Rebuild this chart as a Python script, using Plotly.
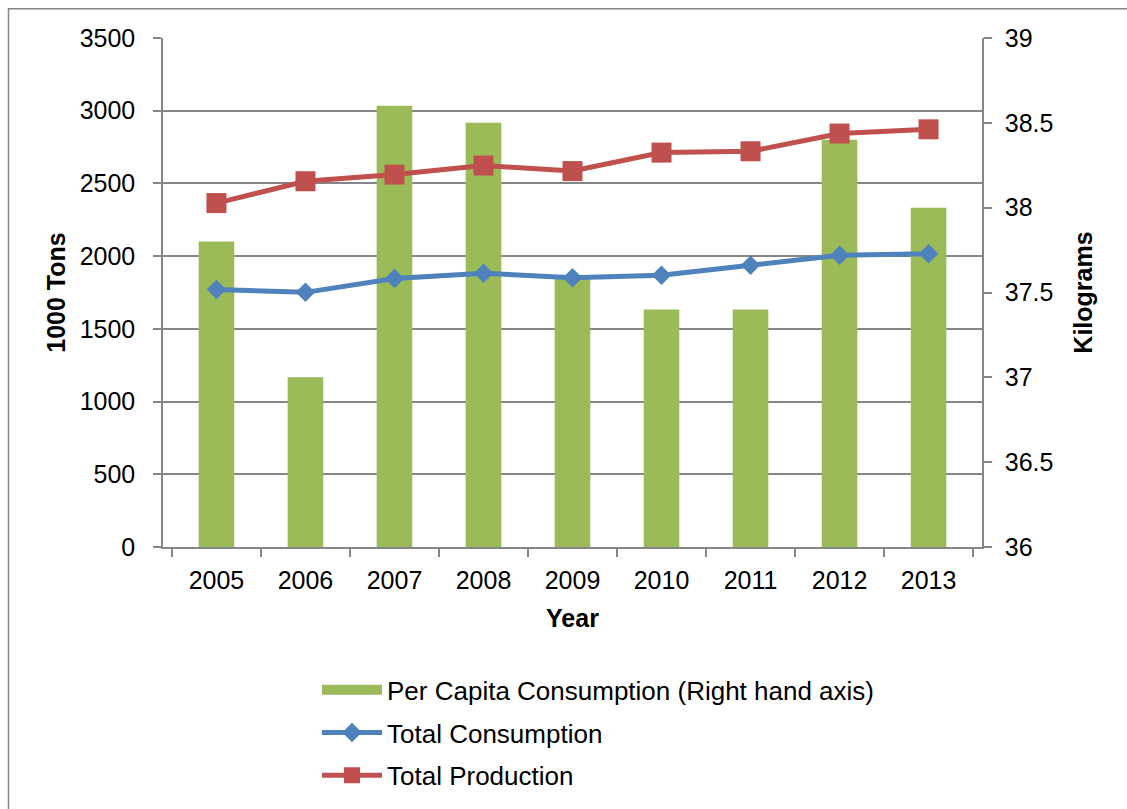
import plotly.graph_objects as go

years = ["2005", "2006", "2007", "2008", "2009", "2010", "2011", "2012", "2013"]
per_capita_kg = [37.8, 37.0, 38.6, 38.5, 37.6, 37.4, 37.4, 38.4, 38.0]
total_consumption = [1770, 1751, 1846, 1882, 1852, 1868, 1937, 2006, 2017]
total_production = [2365, 2515, 2561, 2623, 2585, 2712, 2721, 2843, 2872]

FONT = "Liberation Sans, Arial, sans-serif"
GRAY = "#868686"
GREEN, BLUE, RED = "#9BBB59", "#4F81BD", "#C0504D"

W, H = 1127, 809
L, R, T, B = 163, 982, 37.7, 546.7
pw, ph = R - L, B - T

fig = go.Figure()

# bars on the right-hand (kilogram) axis
fig.add_trace(go.Bar(
    x=years, y=per_capita_kg, yaxis="y",
    name="Per Capita Consumption (Right hand axis)",
    marker=dict(color=GREEN, line=dict(width=0)),
    showlegend=False,
))
# legend swatch for the bars: a wide flat block
fig.add_trace(go.Scatter(
    x=[None], y=[None], yaxis="y2", mode="lines",
    name="Per Capita Consumption (Right hand axis)",
    line=dict(color=GREEN, width=13),
    legendgroup="a", hoverinfo="skip",
))
fig.add_trace(go.Scatter(
    x=years, y=total_consumption, yaxis="y2", mode="lines+markers",
    name="Total Consumption",
    line=dict(color=BLUE, width=5),
    marker=dict(symbol="diamond", size=15, color=BLUE),
    legendgroup="b",
))
fig.add_trace(go.Scatter(
    x=years, y=total_production, yaxis="y2", mode="lines+markers",
    name="Total Production",
    line=dict(color=RED, width=5),
    marker=dict(symbol="square", size=20, color=RED),
    legendgroup="c",
))

axis_common = dict(
    ticks="outside", ticklen=8, tickcolor=GRAY, tickwidth=1.5,
    showline=True, linecolor=GRAY, linewidth=1.5, zeroline=False,
    tickfont=dict(size=25), automargin=False,
)

fig.update_layout(
    width=W, height=H,
    margin=dict(l=L, r=W - R, t=T, b=H - B, pad=0, autoexpand=False),
    paper_bgcolor="white", plot_bgcolor="white",
    font=dict(family=FONT, size=26, color="black"),
    bargap=0.6,
    showlegend=True,
    legend=dict(
        x=(317 - L) / pw, y=(B - 666) / ph, xanchor="left", yanchor="top",
        font=dict(size=26), itemwidth=60, tracegroupgap=6,
        bgcolor="rgba(0,0,0,0)",
    ),
    xaxis=dict(
        type="category", tickson="boundaries", showgrid=False,
        ticklabelstandoff=10,
        title=dict(text="<b>Year</b>", font=dict(size=25), standoff=17),
        **axis_common,
    ),
    yaxis=dict(
        side="right", range=[36, 39], dtick=0.5, showgrid=False,
        ticklabelstandoff=8,
        title=dict(text="<b>Kilograms</b>", font=dict(size=25), standoff=22),
        **axis_common,
    ),
    yaxis2=dict(
        side="left", overlaying="y", range=[0, 3500], dtick=500,
        showgrid=True, gridcolor=GRAY, gridwidth=1.5,
        ticklabelstandoff=13,
        title=dict(text="<b>1000 Tons</b>", font=dict(size=25), standoff=7),
        **axis_common,
    ),
    shapes=[dict(
        type="rect", xref="paper", yref="paper",
        x0=(8.5 - L) / pw, x1=(1140 - L) / pw,
        y0=(B - 8.5) / ph, y1=(B - 820) / ph,
        line=dict(color=GRAY, width=1.5), fillcolor="rgba(0,0,0,0)", layer="below",
    )],
)

fig.write_html("out.html")
